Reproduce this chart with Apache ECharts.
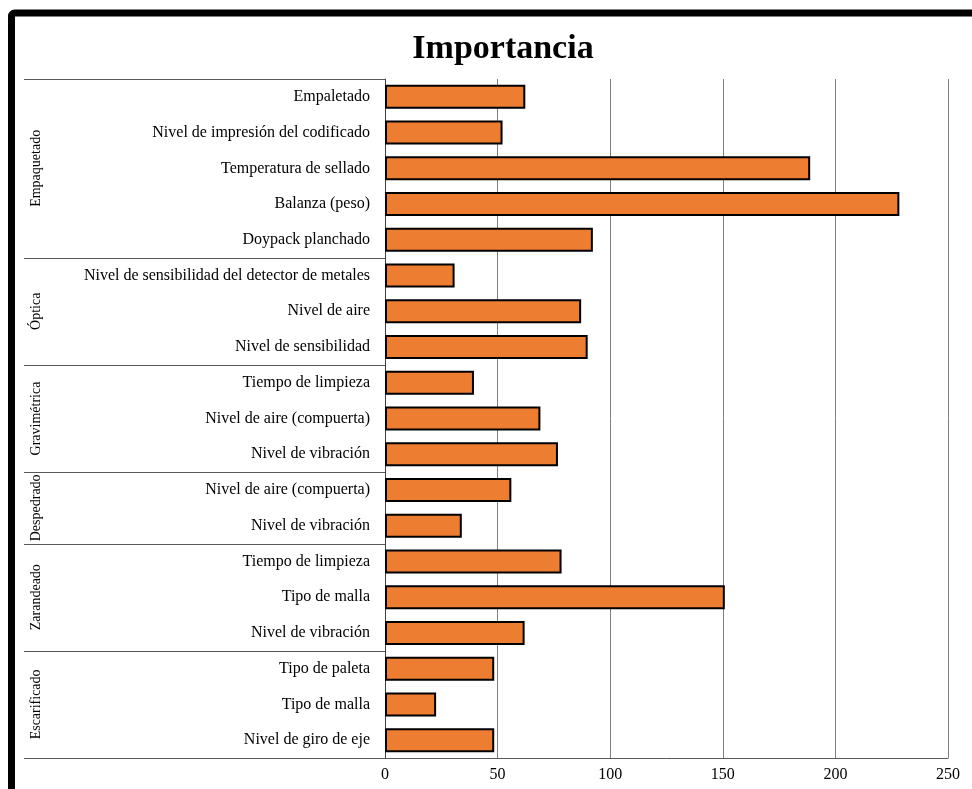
<!DOCTYPE html>
<html>
<head>
<meta charset="utf-8">
<script src="https://cdn.jsdelivr.net/npm/echarts@6/dist/echarts.min.js"></script>
<style>html,body{margin:0;padding:0;background:#fff;}#c{width:972px;height:789px;}</style>
</head>
<body>
<div id="c"></div>
<script>
const titleText = 'Importancia';
const categories = ['Empaletado','Nivel de impresión del codificado','Temperatura de sellado','Balanza (peso)','Doypack planchado',
  'Nivel de sensibilidad del detector de metales','Nivel de aire','Nivel de sensibilidad',
  'Tiempo de limpieza','Nivel de aire (compuerta)','Nivel de vibración',
  'Nivel de aire (compuerta)','Nivel de vibración',
  'Tiempo de limpieza','Tipo de malla','Nivel de vibración',
  'Tipo de paleta','Tipo de malla','Nivel de giro de eje'];
const values = [62.3, 52.2, 188.8, 228.4, 92.3, 30.9, 87.1, 90.0, 39.5, 69.0, 76.8, 56.1, 34.1, 78.4, 150.9, 62.0, 48.5, 22.7, 48.5];
const groupNames = ['Empaquetado','Óptica','Gravimétrica','Despedrado','Zarandeado','Escarificado'];
const groupSizes = [5, 3, 3, 2, 3, 3];
const xTicks = [0, 50, 100, 150, 200, 250];

const SERIF = "'Liberation Serif','Times New Roman',serif";
const chart = echarts.init(document.getElementById('c'));
const gridLeft = 385, gridTop = 79, gridRight = 24, gridBottom = 31;
chart.setOption({
  animation: false,
  title: {
    text: titleText, left: 498, top: 27, textAlign: 'center',
    textStyle: { fontFamily: SERIF, fontWeight: 'bold', fontSize: 34, color: '#000' }
  },
  grid: { left: gridLeft, top: gridTop, right: gridRight, bottom: gridBottom, containLabel: false },
  xAxis: {
    type: 'value', min: xTicks[0], max: xTicks[xTicks.length - 1], interval: 50,
    axisLine: { show: true, lineStyle: { color: '#595959', width: 1 } },
    axisTick: { show: false },
    axisLabel: { fontFamily: SERIF, fontSize: 16, color: '#000', margin: 9 },
    splitLine: { show: true, lineStyle: { color: '#7f7f7f', width: 1 } }
  },
  yAxis: {
    type: 'category', inverse: true, data: categories,
    axisLine: { show: true, lineStyle: { color: '#404040', width: 1 } },
    axisTick: { show: false },
    axisLabel: { fontFamily: SERIF, fontSize: 16, color: '#000', margin: 15, interval: 0 },
    splitLine: { show: false }
  },
  series: [{
    type: 'bar', data: values, barWidth: 24,
    itemStyle: { color: '#ED7D31', borderColor: '#000', borderWidth: 2 }
  }]
});

// multi-level group labels and separators, positioned from the axis scale
const elements = [];
elements.push({
  type: 'rect', silent: true, z: 100,
  shape: { x: 11.5, y: 13, width: 1200, height: 1200, r: 3 },
  style: { fill: 'none', stroke: '#000', lineWidth: 7 }
});
const halfBand = (chart.convertToPixel({ yAxisIndex: 0 }, 1) - chart.convertToPixel({ yAxisIndex: 0 }, 0)) / 2;
let idx = 0;
const sepX0 = 24;
const boundary = (i) => chart.convertToPixel({ yAxisIndex: 0 }, i) - halfBand;
for (let g = 0; g < groupNames.length; g++) {
  const yStart = boundary(idx);
  const yEnd = boundary(idx + groupSizes[g]);
  if (g === 0) {
    elements.push({ type: 'line', silent: true, shape: { x1: sepX0, y1: Math.round(yStart) + 0.5, x2: gridLeft, y2: Math.round(yStart) + 0.5 }, style: { stroke: '#595959', lineWidth: 1 } });
  }
  elements.push({ type: 'line', silent: true, shape: { x1: sepX0, y1: Math.round(yEnd) + 0.5, x2: gridLeft, y2: Math.round(yEnd) + 0.5 }, style: { stroke: '#595959', lineWidth: 1 } });
  elements.push({
    type: 'text', silent: true, x: 36, y: (yStart + yEnd) / 2, rotation: Math.PI / 2,
    style: { text: groupNames[g], fontFamily: SERIF, fontSize: 14, fill: '#000', align: 'center', verticalAlign: 'middle' }
  });
  idx += groupSizes[g];
}
chart.setOption({ graphic: { elements: elements } });
</script>
</body>
</html>
